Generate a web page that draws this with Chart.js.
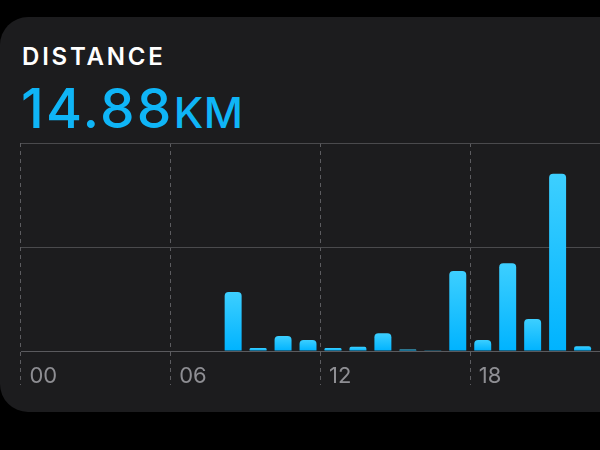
<!DOCTYPE html>
<html>
<head>
<meta charset="utf-8">
<script src="https://cdn.jsdelivr.net/npm/chart.js@4"></script>
<style>
  html, body { margin: 0; padding: 0; background: #000; overflow: hidden; }
  body { width: 600px; height: 450px; position: relative; }
  .card {
    position: absolute; left: 0; top: 17px; width: 680px; height: 395px;
    background: #1c1c1e; border-radius: 28px;
  }
  .title {
    position: absolute; left: 22px; top: 45px; margin: 0;
    font: 600 24px Inter, sans-serif; line-height: 24px;
    letter-spacing: 2.8px; color: #fff;
  }
  .value {
    position: absolute; left: 21px; top: 81px; margin: 0;
    font: 500 55px Inter, sans-serif; line-height: 55px;
    color: #0fb5f7; letter-spacing: 2.2px;
  }
  .value span { font-size: 43px; letter-spacing: 0.5px; }
  canvas { position: absolute; left: 0; top: 0; }
</style>
</head>
<body>
<div class="card"></div>
<div class="title">DISTANCE</div>
<div class="value">14.88<span>KM</span></div>
<canvas id="distance" width="640" height="450"></canvas>
<script>
// hours of the day and km walked in each hour
const hours = ['00','01','02','03','04','05','06','07','08','09','10','11',
               '12','13','14','15','16','17','18','19','20','21','22','23'];
const km = [0, 0, 0, 0, 0, 0, 0, 0, 1.70, 0.09, 0.43, 0.32,
            0.09, 0.12, 0.51, 0.04, 0.02, 2.31, 0.32, 2.53, 0.92, 5.11, 0.14, 0];
const shownHours = ['00', '06', '12', '18'];
const yTicks = [0, 3, 6];

const gridGray = '#4a4a4d';
const dashGray = '#5c5c60';

function barFill(ctx) {
  const chart = ctx.chart;
  const y = chart.scales.y;
  if (!chart.chartArea || !y || ctx.raw == null) return '#00b3ff';
  const top = y.getPixelForValue(ctx.raw);
  const base = y.getPixelForValue(0);
  if (!(base - top > 1)) return '#14bbff';
  const g = chart.ctx.createLinearGradient(0, top, 0, base);
  g.addColorStop(0, '#3dcfff');
  g.addColorStop(1, '#00b3ff');
  return g;
}

new Chart(document.getElementById('distance'), {
  type: 'bar',
  data: {
    labels: hours,
    datasets: [{
      data: km,
      backgroundColor: barFill,
      categoryPercentage: 1,
      barPercentage: 0.68,
      borderRadius: { topLeft: 4, topRight: 4 },
      borderSkipped: 'bottom'
    }]
  },
  options: {
    responsive: false,
    animation: false,
    layout: { padding: { left: 21, top: 143, right: 20, bottom: 65 } },
    plugins: { legend: { display: false }, tooltip: { enabled: false } },
    scales: {
      x: {
        offset: true,
        // dashed hour lines run down past the axis, the labels sit beside them
        afterFit: s => { s.height = 34; },
        grid: {
          offset: true,
          color: c => (c.index % 6 === 0 ? dashGray : 'transparent'),
          tickColor: c => (c.index % 6 === 0 ? dashGray : 'transparent'),
          tickLength: 34,
          tickBorderDash: [4, 4],
          lineWidth: 1
        },
        border: { display: true, color: '#5a5a5e', width: 1, dash: [4, 4] },
        ticks: {
          autoSkip: false,
          maxRotation: 0,
          align: 'start',
          labelOffset: -4,
          padding: -22,
          color: '#8e8e93',
          font: { family: 'Inter', size: 22, weight: '400' },
          callback: (v, i) => (shownHours.includes(hours[i]) ? hours[i] : '')
        }
      },
      y: {
        position: 'right',
        min: yTicks[0],
        max: yTicks[yTicks.length - 1],
        afterBuildTicks: s => { s.ticks = yTicks.map(v => ({ value: v })); },
        grid: { color: gridGray, lineWidth: 1, drawTicks: false },
        border: { display: false },
        ticks: { display: false }
      }
    }
  }
});
</script>
</body>
</html>
